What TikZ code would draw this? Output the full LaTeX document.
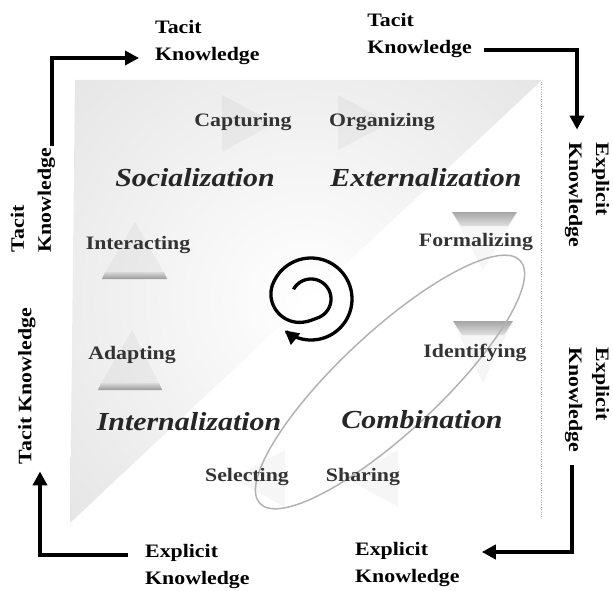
\documentclass[tikz,border=0pt]{standalone}
\usepackage{fontspec}
\setmainfont{Liberation Serif}[FakeStretch=1.15]
\usetikzlibrary{arrows.meta}

\begin{document}
\begin{tikzpicture}[x=1pt,y=-1pt,
  declare function={grow(\a)=max(0,min(1,(\a-430)/130)); spr(\a)=20+21*grow(\a)^2*(3-2*grow(\a));},
  outer/.style={font=\fontsize{19}{27}\selectfont\bfseries,inner sep=2pt},
  stage/.style={font=\fontsize{19}{23}\selectfont\bfseries,text=black!80},
  phase/.style={font=\fontsize{26}{30}\selectfont\bfseries\itshape,text=black!85},
  ghost/.style={fill=black,fill opacity=.035},
  flow/.style={line width=3.5pt,-{Triangle[length=14pt,width=14pt]}}]
\useasboundingbox (0,0) rectangle (613,591);
% shaded half of the square
\begin{scope}
\clip (75,80)--(542,80)--(70,523)--cycle;
\shade[inner color=white,outer color=black!19] (305,300) circle (620);
\end{scope}
\draw[black!30,dotted] (541,82)--(541,517);
% faint step arrows
\fill[ghost] (222,95)--(222,152)--(275,123)--cycle; \fill[ghost] (338,95)--(338,150)--(390,123)--cycle;
\fill[ghost] (452,213)--(517,213)--(483,270)--cycle; \fill[ghost] (453,322)--(513,322)--(483,383)--cycle;
\fill[ghost] (102,278)--(167,278)--(135,222)--cycle; \fill[ghost] (98,389)--(162,389)--(132,330)--cycle;
\fill[ghost] (285,450)--(285,507)--(232,478)--cycle; \fill[ghost] (398,450)--(398,507)--(345,478)--cycle;
\shade[top color=black!35,bottom color=black!12] (452,212)--(517,212)--(508,226)--(461,226)--cycle;
\shade[top color=black!35,bottom color=black!12] (453,321)--(513,321)--(504,335)--(462,335)--cycle;
\shade[top color=black!15,bottom color=black!40] (105,272)--(164,272)--(167,279)--(102,279)--cycle;
\shade[top color=black!15,bottom color=black!40] (101,383)--(159,383)--(162,390)--(98,390)--cycle;
% loop and spiral
\draw[black!30,line width=1.5pt,rotate around={43:(390,382)}] (390,382) ellipse (178 and 50);
\draw[line width=3.3pt,-{Triangle[length=14pt,width=14pt]}] plot[domain=209:850,samples=180,smooth]
  ({311+spr(\x)*cos(\x)},{299+spr(\x)*sin(\x)});
% steps and modes
\node[stage] (capt) at (243,122) {Capturing}; \node[stage] (orga) at (382,122) {Organizing};
\node[phase] (soci) at (195,178) {Socialization}; \node[phase] (exte) at (426,178) {Externalization};
\node[stage] (inte) at (138,245) {Interacting}; \node[stage] (form) at (476,242) {Formalizing};
\node[stage] (adap) at (132,355) {Adapting}; \node[stage] (iden) at (475,353) {Identifying};
\node[phase] (intz) at (189,422) {Internalization}; \node[phase] (comb) at (422,420) {Combination};
\node[stage] (sele) at (247,477) {Selecting}; \node[stage] (shar) at (363,477) {Sharing};
% knowledge labels round the square
\node[outer,align=left,anchor=west] (tkTL) at (153,43) {Tacit\\Knowledge};
\node[outer,align=left,anchor=east] (tkTR) at (474,36) {Tacit\\Knowledge};
\node[outer,align=left,rotate=-90] (exR1) at (587,195) {Explicit\\Knowledge};
\node[outer,align=left,rotate=-90] (exR2) at (587,400) {Explicit\\Knowledge};
\node[outer,align=left,anchor=west] (exBR) at (353,564) {Explicit\\Knowledge};
\node[outer,align=left,anchor=west] (exBL) at (143,566) {Explicit\\Knowledge};
\node[outer,rotate=90] (tkL2) at (27,386) {Tacit Knowledge};
\node[outer,align=left,rotate=90] (tkL1) at (33,200) {Tacit\\Knowledge};
\draw[flow,shorten >=14pt] ([xshift=19pt]tkL1.east) |- ([yshift=-15pt]tkTL.west);
\draw[flow,shorten <=10pt,shorten >=11pt] ([yshift=-14pt]tkTR.east) -| ([xshift=-10pt]exR1.west);
\draw[flow,shorten <=11pt,shorten >=20pt] ([xshift=-15pt]exR2.east) |- ([yshift=12pt]exBR.east);
\draw[flow,shorten <=15pt,shorten >=5pt] ([yshift=11pt]exBL.west) -| ([xshift=13pt]tkL2.west);
\end{tikzpicture}
\end{document}
